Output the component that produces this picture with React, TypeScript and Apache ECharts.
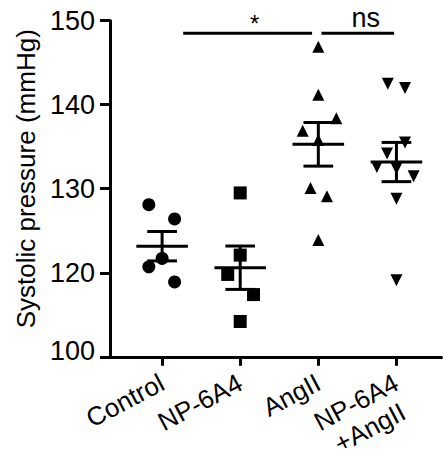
import React, { useEffect, useRef } from 'react';
import * as echarts from 'echarts';

const categories = ['Control', 'NP-6A4', 'AngII', 'NP-6A4\n+AngII'];

const controlValues = [128.1, 126.4, 121.7, 120.7, 118.9];
const controlJitter = [-0.17, 0.16, 0, -0.17, 0.16];
const np6a4Values = [129.5, 122.1, 119.8, 117.4, 114.2];
const np6a4Jitter = [0, 0, -0.16, 0.17, 0];
const angIIValues = [146.9, 141.2, 138.4, 136.9, 135.8, 130.1, 129.1, 123.9];
const angIIJitter = [0, 0, 0.23, -0.2, 0, -0.1, 0.11, 0];
const comboValues = [142.5, 142.0, 135.5, 134.2, 132.6, 132.4, 131.5, 128.8, 119.1];
const comboJitter = [-0.11, 0.11, 0.11, -0.12, -0.25, 0, 0.22, 0, 0];

const yTicks = [110, 120, 130, 140, 150];
const yTickLabels = ['100', '120', '130', '140', '150'];

const comparisonLabels = ['*', 'ns'];
const comparisonFrom = [1.27, 3.04];
const comparisonTo = [2.92, 3.97];
const comparisonLevel = 148.5;

const FONT = '"Liberation Sans", Arial, Helvetica, sans-serif';

export default function App() {
  const ref = useRef<HTMLDivElement>(null);

  useEffect(() => {
    document.body.style.margin = '0';
    if (!ref.current) return;
    const chart = echarts.init(ref.current, null, { renderer: 'svg' });

    const groups = [controlValues, np6a4Values, angIIValues, comboValues];
    const jitters = [controlJitter, np6a4Jitter, angIIJitter, comboJitter];
    const symbols = ['circle', 'rect', 'triangle', 'triangle'];
    const rotates = [0, 0, 0, 180];
    const sizes = [13, 13, 12, 12];

    const stats = groups.map((vals, i) => {
      const n = vals.length;
      const mean = vals.reduce((a, b) => a + b, 0) / n;
      const sd = Math.sqrt(vals.reduce((a, b) => a + (b - mean) ** 2, 0) / (n - 1));
      return [i + 1, mean, sd / Math.sqrt(n)];
    });

    const scatterSeries = groups.map((vals, i) => ({
      type: 'scatter',
      name: categories[i],
      symbol: symbols[i],
      symbolRotate: rotates[i],
      symbolSize: sizes[i],
      itemStyle: { color: '#000', opacity: 1 },
      data: vals.map((v, j) => [i + 1 + jitters[i][j], v]),
      z: 3,
    }));

    const compSeries = comparisonLabels.map((_, i) => ({
      type: 'line',
      symbol: 'none',
      lineStyle: { color: '#000', width: 3 },
      data: [
        [comparisonFrom[i], comparisonLevel],
        [comparisonTo[i], comparisonLevel],
      ],
      clip: false,
      z: 4,
    }));

    const xLabelBase = {
      rotate: 28,
      margin: 24,
      fontSize: 26,
      fontFamily: FONT,
      color: '#000',
      hideOverlap: false,
      showMinLabel: true,
      showMaxLabel: true,
    };

    const option: any = {
      animation: false,
      grid: { left: 110, right: 1.5, top: 20.7, bottom: 102.5, containLabel: false },
      xAxis: [
        {
          type: 'value',
          min: 0.333,
          max: 4.577,
          splitLine: { show: false },
          axisLine: { show: true, lineStyle: { color: '#000', width: 3 } },
          axisTick: { show: true, customValues: [1, 2, 3, 4], length: 9, lineStyle: { color: '#000', width: 3 } },
          axisLabel: {
            ...xLabelBase,
            customValues: [1, 2, 3],
            formatter: (v: number) => categories[Math.round(v) - 1],
          },
        },
        {
          type: 'value',
          position: 'bottom',
          min: 0.333,
          max: 4.577,
          splitLine: { show: false },
          axisLine: { show: false },
          axisTick: { show: false },
          axisLabel: {
            ...xLabelBase,
            customValues: [4],
            padding: [29, 0, 0, 0],
            formatter: (v: number) =>
              categories[Math.round(v) - 1]
                .split('\n')
                .map((s) => '{c|' + s + '}')
                .join('\n'),
            rich: {
              c: { fontSize: 26, fontFamily: FONT, color: '#000', align: 'center', lineHeight: 29 },
            },
          },
        },
      ],
      yAxis: {
        type: 'value',
        min: 110,
        max: 150,
        interval: 10,
        name: 'Systolic pressure (mmHg)',
        nameLocation: 'middle',
        nameGap: 71,
        nameTextStyle: { fontSize: 26, fontFamily: FONT, color: '#000', padding: [0, 0, 0, 20] },
        splitLine: { show: false },
        axisLine: { show: true, lineStyle: { color: '#000', width: 3 } },
        axisTick: { show: true, length: 10, lineStyle: { color: '#000', width: 3 } },
        axisLabel: {
          formatter: (v: number) => {
            const t = yTickLabels[yTicks.indexOf(v)] ?? String(v);
            return v === 110 ? '{low|' + t + '}' : t;
          },
          rich: {
            low: { fontSize: 27, fontFamily: FONT, color: '#000', padding: [0, 0, 12, 0] },
          },
          fontSize: 27,
          margin: 15,
          fontFamily: FONT,
          color: '#000',
        },
      },
      series: [
        ...scatterSeries,
        {
          type: 'custom',
          data: stats,
          clip: false,
          z: 5,
          renderItem: (params: any, api: any) => {
            const x = api.value(0);
            const m = api.value(1);
            const s = api.value(2);
            const style = { stroke: '#000', lineWidth: 3 };
            const seg = (a: number[], b: number[]) => ({
              type: 'line',
              shape: { x1: a[0], y1: a[1], x2: b[0], y2: b[1] },
              style,
            });
            const p = (xx: number, yy: number) => api.coord([xx, yy]);
            return {
              type: 'group',
              children: [
                seg(p(x - 0.33, m), p(x + 0.33, m)),
                seg(p(x, m - s), p(x, m + s)),
                seg(p(x - 0.19, m + s), p(x + 0.19, m + s)),
                seg(p(x - 0.19, m - s), p(x + 0.19, m - s)),
              ],
            };
          },
        },
        ...compSeries,
      ],
    };

    chart.setOption(option);

    const graphic = comparisonLabels.map((label, i) => {
      const mid = (comparisonFrom[i] + comparisonTo[i]) / 2;
      const pt = chart.convertToPixel({ xAxisIndex: 0, yAxisIndex: 0 }, [mid, comparisonLevel]) as number[];
      return {
        type: 'text',
        x: pt[0] + (i === 0 ? 7 : 8),
        y: pt[1] - (i === 0 ? -2 : 2),
        style: {
          text: label,
          fontSize: i === 0 ? 24 : 27,
          fontFamily: FONT,
          fill: '#000',
          textAlign: 'center',
          textVerticalAlign: 'bottom',
        },
      };
    });
    chart.setOption({ graphic });

    return () => chart.dispose();
  }, []);

  return <div ref={ref} style={{ width: 443, height: 462 }} />;
}
